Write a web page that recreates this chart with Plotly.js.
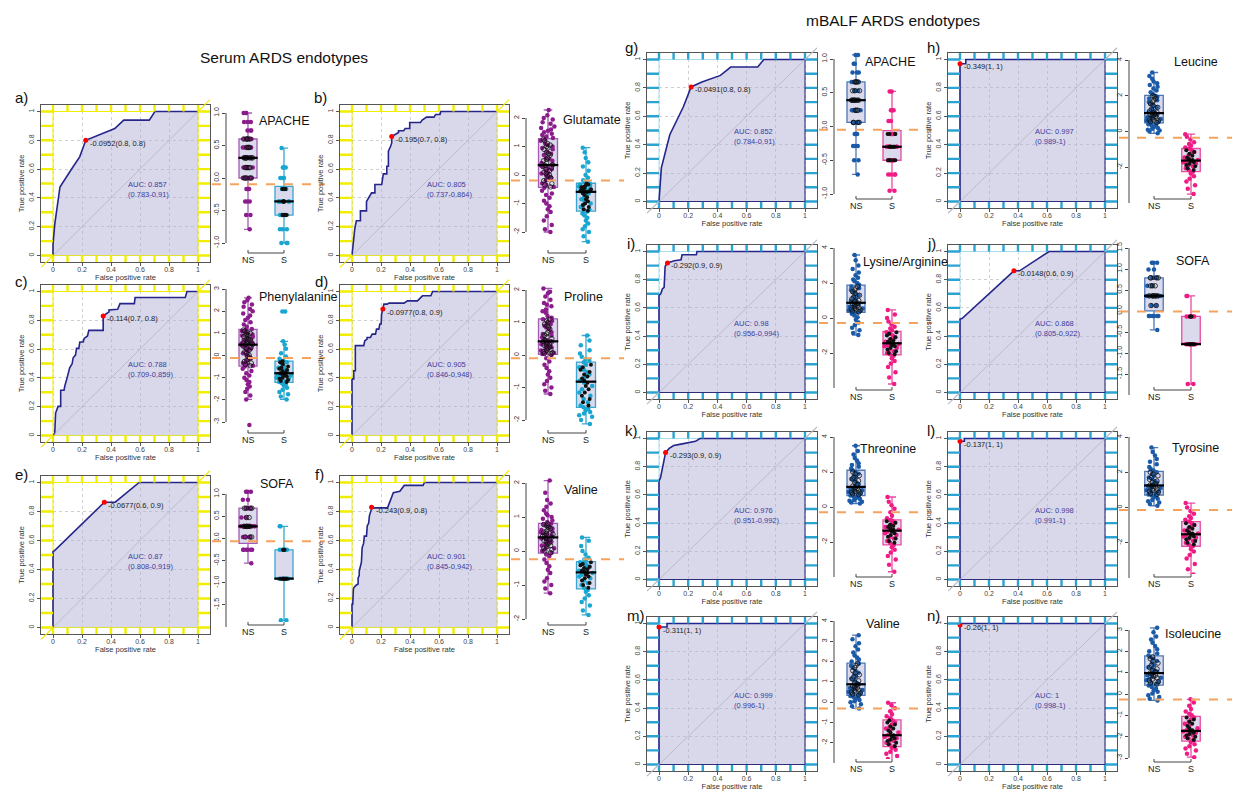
<!DOCTYPE html>
<html><head><meta charset="utf-8">
<script src="https://cdn.plot.ly/plotly-3.0.1.min.js"></script>
<style>html,body{margin:0;padding:0;background:#fff}#chart{width:1243px;height:792px}</style>
</head><body><div id="chart"></div>
<script>
// ================= DATA =================
const panelKeys   = ['a','b','c','d','e','f','g','h','i','j','k','l','m','n'];
const markerNames = ['APACHE','Glutamate','Phenylalanine','Proline','SOFA','Valine',
                     'APACHE','Leucine','Lysine/Arginine','SOFA','Threonine','Tyrosine','Valine','Isoleucine'];
const cutoffs     = [-0.0952,-0.195,-0.114,-0.0977,-0.0677,-0.243,-0.0491,-0.349,-0.292,-0.0148,-0.293,-0.137,-0.311,-0.26];
const cutoffText  = ['-0.0952(0.8, 0.8)','-0.195(0.7, 0.8)','-0.114(0.7, 0.8)','-0.0977(0.8, 0.9)','-0.0677(0.6, 0.9)','-0.243(0.9, 0.8)',
                     '-0.0491(0.8, 0.8)','-0.349(1, 1)','-0.292(0.9, 0.9)','-0.0148(0.6, 0.9)','-0.293(0.9, 0.9)','-0.137(1, 1)','-0.311(1, 1)','-0.26(1, 1)'];
const bestFpr     = [0.226,0.274,0.346,0.213,0.354,0.135,0.220,0,0.058,0.372,0.045,0,0,0];
const bestTpr     = [0.800,0.826,0.830,0.878,0.864,0.830,0.807,0.97,0.919,0.863,0.900,0.98,0.975,0.99];
const aucValues   = ['0.857','0.805','0.788','0.905','0.87','0.901','0.852','0.997','0.98','0.868','0.976','0.998','0.999','1'];
const aucCI       = ['(0.783-0.91)','(0.737-0.864)','(0.709-0.859)','(0.846-0.948)','(0.808-0.919)','(0.845-0.942)',
                     '(0.784-0.91)','(0.989-1)','(0.956-0.994)','(0.805-0.922)','(0.951-0.992)','(0.991-1)','(0.996-1)','(0.998-1)'];
const rocTickVals = [0,0.2,0.4,0.6,0.8,1];
const rocTickText = ['0','0.2','0.4','0.6','0.8','1'];

const roc_a_fpr=[0,0,0.012,0.048,0.127,0.184,0.226,0.323,0.426,0.488,0.664,0.703,1];
const roc_a_tpr=[0,0.077,0.216,0.476,0.599,0.685,0.8,0.842,0.882,0.940,0.940,1,1];
const roc_b_fpr=[0,0.007,0.019,0.030,0.058,0.058,0.100,0.100,0.135,0.158,0.158,0.205,0.216,0.240,0.240,0.251,0.251,0.267,0.274,0.274,0.298,0.321,0.321,0.356,0.367,0.398,0.398,0.472,0.484,0.514,0.565,0.577,0.607,0.612,1];
const roc_b_tpr=[0,0.079,0.185,0.241,0.241,0.310,0.310,0.375,0.435,0.435,0.493,0.493,0.567,0.567,0.620,0.620,0.725,0.760,0.782,0.826,0.843,0.854,0.866,0.866,0.882,0.882,0.924,0.924,0.940,0.961,0.961,0.979,0.979,1,1];
const roc_c_fpr=[0,0.012,0.018,0.035,0.053,0.053,0.076,0.081,0.099,0.115,0.132,0.139,0.155,0.162,0.178,0.185,0.208,0.215,0.238,0.247,0.266,0.346,0.346,0.386,0.386,0.446,0.462,0.561,0.566,0.912,0.924,1];
const roc_c_tpr=[0,0.016,0.156,0.202,0.202,0.314,0.314,0.342,0.407,0.470,0.498,0.540,0.558,0.605,0.605,0.649,0.649,0.674,0.691,0.730,0.730,0.730,0.830,0.858,0.872,0.877,0.916,0.916,0.958,0.958,1,1];
const roc_d_fpr=[0,0,0.012,0.012,0.023,0.023,0.081,0.088,0.104,0.104,0.127,0.139,0.162,0.169,0.185,0.192,0.201,0.204,0.213,0.220,0.243,0.255,0.359,0.382,0.451,0.463,0.486,0.544,0.556,1];
const roc_d_tpr=[0,0.393,0.393,0.450,0.450,0.624,0.624,0.658,0.670,0.681,0.681,0.704,0.704,0.739,0.739,0.774,0.774,0.843,0.878,0.912,0.912,0.919,0.919,0.935,0.935,0.947,0.970,0.970,1,1];
const roc_e_fpr=[0,0,0.011,0.354,0.429,0.594,1];
const roc_e_tpr=[0,0.523,0.53,0.864,0.864,1,1];
const roc_f_fpr=[0,0,0.005,0.01,0.026,0.042,0.042,0.05,0.05,0.065,0.07,0.08,0.085,0.1,0.105,0.115,0.12,0.135,0.14,0.245,0.255,0.265,0.27,0.285,0.33,0.36,0.49,0.5,1];
const roc_f_tpr=[0,0.16,0.16,0.27,0.29,0.30,0.34,0.36,0.39,0.45,0.55,0.58,0.63,0.63,0.70,0.72,0.77,0.82,0.825,0.825,0.855,0.87,0.9,0.93,0.94,0.98,0.98,1.0,1];
const roc_g_fpr=[0,0.016,0.074,0.167,0.220,0.294,0.421,0.491,0.676,0.718,1];
const roc_g_tpr=[0,0.237,0.470,0.667,0.807,0.842,0.888,0.947,0.947,1,1];
const roc_h_fpr=[0,0,0.04,0.04,1];
const roc_h_tpr=[0,0.97,0.97,1,1];
const roc_i_fpr=[0,0,0.012,0.023,0.035,0.042,0.058,0.105,0.151,0.158,0.256,0.26,1];
const roc_i_tpr=[0,0.688,0.700,0.734,0.746,0.896,0.919,0.935,0.942,0.977,0.977,1,1];
const roc_j_fpr=[0,0,0.014,0.372,0.411,0.614,1];
const roc_j_tpr=[0,0.521,0.525,0.863,0.863,1,1];
const roc_k_fpr=[0,0,0.01,0.02,0.03,0.045,0.07,0.1,0.15,0.2,0.25,0.28,1];
const roc_k_tpr=[0,0.70,0.72,0.78,0.82,0.90,0.93,0.95,0.96,0.97,0.98,1,1];
const roc_l_fpr=[0,0,0.03,0.03,1];
const roc_l_tpr=[0,0.98,0.98,1,1];
const roc_m_fpr=[0,0,0.055,0.055,1];
const roc_m_tpr=[0,0.975,0.975,1,1];
const roc_n_fpr=[0,0,1];
const roc_n_tpr=[0,1,1];

const box_a_ns=[1.0,1.0,1.0,0.86,0.86,0.86,0.73,0.73,0.73,0.6,0.6,0.6,0.6,0.6,0.47,0.47,0.47,0.47,0.31,0.31,0.31,0.31,0.31,0.31,0.31,0.31,0.16,0.16,0.16,0.16,0.16,0.0,0.0,0.0,0.0,0.0,-0.17,-0.17,-0.17,-0.36,-0.36,-0.36,-0.57,-0.57,-0.79];
const box_a_s =[0.46,0.16,0.16,0.16,0.0,0.0,0.0,-0.17,-0.17,-0.17,-0.17,-0.36,-0.36,-0.36,-0.36,-0.36,-0.36,-0.57,-0.57,-0.57,-0.57,-0.57,-0.57,-0.79,-0.79,-0.79,-1.0,-1.0,-1.0];
const box_b_ns=[2.28,2.1,2.0,1.95,1.85,1.8,1.7,1.65,1.6,1.55,1.5,1.45,1.4,1.35,1.3,1.25,1.2,1.1,1.05,1.0,0.95,0.9,0.8,0.75,0.7,0.6,0.55,0.5,0.42,0.36,0.34,0.3,0.25,0.2,0.15,0.1,0.05,0.0,-0.05,-0.1,-0.15,-0.2,-0.3,-0.35,-0.42,-0.45,-0.55,-0.65,-0.7,-0.8,-0.9,-1.0,-1.1,-1.2,-1.3,-1.45,-1.6,-1.75,-1.9,-2.0];
const box_b_s =[0.96,0.8,0.6,0.45,0.3,0.15,0.0,-0.1,-0.18,-0.24,-0.28,-0.3,-0.33,-0.36,-0.4,-0.43,-0.46,-0.5,-0.52,-0.55,-0.57,-0.58,-0.6,-0.65,-0.7,-0.78,-0.85,-0.92,-1.0,-1.05,-1.12,-1.2,-1.25,-1.28,-1.35,-1.42,-1.5,-1.6,-1.7,-1.8,-1.9,-2.0,-2.15,-2.34];
const box_c_ns=[2.6,2.5,2.4,2.3,2.2,2.1,2.0,1.9,1.8,1.7,1.6,1.5,1.4,1.3,1.2,1.15,1.1,1.05,1.0,0.95,0.9,0.85,0.8,0.75,0.7,0.65,0.6,0.57,0.54,0.5,0.48,0.42,0.36,0.3,0.24,0.18,0.1,0.02,-0.05,-0.12,-0.2,-0.27,-0.34,-0.4,-0.46,-0.5,-0.6,-0.7,-0.8,-0.9,-1.0,-1.1,-1.2,-1.3,-1.4,-1.5,-1.65,-1.8,-1.98,-3.14];
const box_c_s =[1.98,1.98,0.64,0.5,0.3,0.1,-0.05,-0.15,-0.22,-0.26,-0.3,-0.4,-0.5,-0.55,-0.6,-0.65,-0.7,-0.75,-0.8,-0.83,-0.86,-0.9,-0.95,-1.0,-1.05,-1.1,-1.15,-1.2,-1.25,-1.3,-1.35,-1.45,-1.55,-1.65,-1.75,-1.85,-1.98];
const box_d_ns=[2.05,1.95,1.9,1.8,1.7,1.6,1.55,1.5,1.4,1.35,1.3,1.2,1.15,1.1,1.05,1.0,0.95,0.9,0.85,0.8,0.7,0.65,0.6,0.55,0.5,0.45,0.42,0.39,0.36,0.33,0.3,0.27,0.24,0.2,0.17,0.14,0.1,0.07,0.05,0.03,0.0,-0.1,-0.2,-0.3,-0.4,-0.5,-0.6,-0.7,-0.8,-0.9,-1.0,-1.1,-1.2];
const box_d_s =[0.6,0.45,0.3,0.15,0.05,-0.05,-0.12,-0.18,-0.22,-0.3,-0.38,-0.45,-0.52,-0.6,-0.66,-0.72,-0.79,-0.85,-0.95,-1.05,-1.15,-1.25,-1.35,-1.45,-1.55,-1.61,-1.65,-1.7,-1.75,-1.8,-1.85,-1.9,-2.0,-2.12];
const box_e_ns=[1.05,1.05,1.05,0.87,0.87,0.68,0.68,0.68,0.68,0.47,0.47,0.27,0.27,0.27,0.27,0.27,0.27,0.27,0.03,0.03,0.03,-0.26,-0.26,-0.26,-0.26,-0.26,-0.26,-0.56];
const box_e_s =[0.27,0.27,-0.26,-0.26,-0.26,-0.26,-0.91,-0.91,-0.91,-0.91,-0.91,-0.91,-0.91,-1.85,-1.85];
const box_f_ns=[2.07,1.71,1.5,1.4,1.3,1.2,1.1,1.05,1.0,0.95,0.9,0.85,0.8,0.78,0.75,0.7,0.66,0.62,0.58,0.55,0.52,0.49,0.46,0.43,0.4,0.37,0.34,0.3,0.27,0.24,0.2,0.16,0.12,0.08,0.04,0.0,-0.05,-0.1,-0.15,-0.25,-0.35,-0.45,-0.55,-0.65,-0.8,-0.9,-1.0,-1.1,-1.24];
const box_f_s =[0.4,0.3,0.15,0.0,-0.1,-0.2,-0.25,-0.29,-0.33,-0.38,-0.42,-0.46,-0.5,-0.54,-0.58,-0.61,-0.65,-0.7,-0.75,-0.8,-0.87,-0.94,-1.0,-1.08,-1.15,-1.2,-1.3,-1.4,-1.5,-1.6,-1.75,-1.88];
const box_g_ns=[1.06,1.06,0.93,0.93,0.8,0.8,0.8,0.66,0.66,0.66,0.66,0.53,0.53,0.53,0.39,0.39,0.39,0.39,0.39,0.39,0.39,0.24,0.24,0.24,0.24,0.06,0.06,0.06,0.06,-0.11,-0.11,-0.11,-0.29,-0.29,-0.29,-0.5,-0.5,-0.71];
const box_g_s =[0.52,0.52,0.24,0.24,0.24,0.08,0.08,-0.11,-0.11,-0.11,-0.11,-0.3,-0.3,-0.3,-0.3,-0.3,-0.3,-0.3,-0.5,-0.5,-0.5,-0.5,-0.5,-0.71,-0.71,-0.71,-0.71,-0.95,-0.95];
const box_h_ns=[3.3,3.1,2.95,2.8,2.7,2.6,2.5,2.4,2.3,2.2,2.1,2.0,1.95,1.85,1.75,1.65,1.55,1.45,1.35,1.25,1.15,1.08,1.03,1.0,0.95,0.9,0.85,0.8,0.75,0.7,0.65,0.6,0.55,0.5,0.45,0.4,0.35,0.3,0.25,0.2,0.15,0.1,0.05,0.0,-0.1];
const box_h_s =[-0.15,-0.3,-0.45,-0.6,-0.7,-0.8,-0.9,-0.95,-1.05,-1.15,-1.25,-1.35,-1.45,-1.55,-1.6,-1.65,-1.72,-1.8,-1.88,-1.95,-2.05,-2.15,-2.25,-2.35,-2.5,-2.65,-2.8,-3.0,-3.2,-3.5];
const box_i_ns=[3.6,3.3,3.0,2.8,2.6,2.45,2.3,2.2,2.1,2.0,1.9,1.8,1.7,1.6,1.5,1.4,1.3,1.2,1.1,1.0,0.93,0.87,0.82,0.75,0.7,0.65,0.6,0.55,0.5,0.45,0.4,0.35,0.32,0.25,0.15,0.05,-0.1,-0.25,-0.4,-0.55,-0.7,-0.85,-0.97];
const box_i_s =[0.46,0.2,0.0,-0.2,-0.35,-0.5,-0.6,-0.7,-0.82,-0.9,-1.0,-1.1,-1.2,-1.28,-1.35,-1.41,-1.48,-1.55,-1.62,-1.7,-1.8,-1.9,-2.0,-2.07,-2.15,-2.3,-2.45,-2.6,-2.8,-3.1,-3.4,-3.77];
const box_j_ns=[1.15,1.15,1.15,0.99,0.99,0.79,0.79,0.79,0.79,0.6,0.6,0.6,0.36,0.36,0.36,0.36,0.36,0.36,0.36,0.13,0.13,-0.12,-0.12,-0.12,-0.12,-0.12,-0.12,-0.45];
const box_j_s =[0.36,0.36,-0.13,-0.13,-0.13,-0.13,-0.79,-0.79,-0.79,-0.79,-0.79,-0.79,-0.79,-1.74,-1.74];
const box_k_ns=[3.5,3.2,3.0,2.8,2.65,2.5,2.4,2.3,2.2,2.1,2.0,1.9,1.8,1.7,1.6,1.5,1.4,1.3,1.2,1.1,1.05,1.0,0.95,0.9,0.85,0.8,0.75,0.7,0.65,0.6,0.55,0.5,0.45,0.4,0.35,0.3,0.25,0.2];
const box_k_s =[0.57,0.3,0.1,-0.1,-0.3,-0.5,-0.65,-0.74,-0.82,-0.9,-1.0,-1.08,-1.15,-1.22,-1.3,-1.4,-1.5,-1.6,-1.7,-1.8,-1.95,-2.05,-2.17,-2.3,-2.45,-2.6,-2.8,-3.0,-3.3,-3.7];
const box_l_ns=[3.4,3.15,2.95,2.75,2.6,2.45,2.3,2.2,2.1,2.0,1.9,1.8,1.7,1.6,1.5,1.42,1.35,1.28,1.22,1.16,1.1,1.04,0.98,0.92,0.86,0.8,0.74,0.68,0.63,0.6,0.5,0.42,0.35,0.28,0.2,0.1];
const box_l_s =[0.25,0.0,-0.2,-0.35,-0.5,-0.6,-0.7,-0.8,-0.9,-1.0,-1.1,-1.2,-1.3,-1.4,-1.48,-1.56,-1.64,-1.72,-1.8,-1.9,-2.0,-2.1,-2.2,-2.35,-2.5,-2.7,-2.9,-3.2,-3.5,-3.8];
const box_m_ns=[3.3,3.1,2.9,2.75,2.6,2.45,2.3,2.2,2.1,2.0,1.9,1.8,1.7,1.55,1.45,1.35,1.25,1.15,1.05,0.95,0.88,0.8,0.75,0.7,0.65,0.6,0.55,0.5,0.45,0.4,0.35,0.3,0.25,0.2,0.15,0.1,0.05,0.0,-0.1,-0.2,-0.31];
const box_m_s =[-0.03,-0.15,-0.3,-0.45,-0.6,-0.7,-0.8,-0.9,-1.0,-1.1,-1.2,-1.3,-1.4,-1.5,-1.63,-1.7,-1.78,-1.85,-1.92,-2.0,-2.08,-2.17,-2.25,-2.35,-2.45,-2.55,-2.65,-2.8,-2.94];
const box_n_ns=[3.1,2.9,2.7,2.55,2.4,2.25,2.1,2.0,1.9,1.8,1.74,1.65,1.55,1.45,1.35,1.25,1.18,1.1,1.04,0.98,0.94,0.88,0.82,0.76,0.7,0.64,0.58,0.52,0.46,0.4,0.33,0.25,0.18,0.1,0.02,-0.06,-0.14,-0.22,-0.3];
const box_n_s =[-0.25,-0.4,-0.55,-0.7,-0.82,-0.92,-1.0,-1.1,-1.2,-1.3,-1.4,-1.5,-1.6,-1.7,-1.76,-1.82,-1.88,-1.94,-2.0,-2.08,-2.16,-2.25,-2.35,-2.45,-2.55,-2.65,-2.8,-2.96];

const boxTickRange = [[1,-1,0.5],[2,-2,1],[3,-3,1],[2,-2,1],[1,-2,0.5],[2,-2,1],
                      [1,-1,0.5],[4,-4,2],[4,-4,2],[1.5,-2,0.5],[4,-4,2],[4,-4,2],[4,-3,1],[3,-3,1]];

const rocFpr=[roc_a_fpr,roc_b_fpr,roc_c_fpr,roc_d_fpr,roc_e_fpr,roc_f_fpr,roc_g_fpr,roc_h_fpr,roc_i_fpr,roc_j_fpr,roc_k_fpr,roc_l_fpr,roc_m_fpr,roc_n_fpr];
const rocTpr=[roc_a_tpr,roc_b_tpr,roc_c_tpr,roc_d_tpr,roc_e_tpr,roc_f_tpr,roc_g_tpr,roc_h_tpr,roc_i_tpr,roc_j_tpr,roc_k_tpr,roc_l_tpr,roc_m_tpr,roc_n_tpr];
const boxNS=[box_a_ns,box_b_ns,box_c_ns,box_d_ns,box_e_ns,box_f_ns,box_g_ns,box_h_ns,box_i_ns,box_j_ns,box_k_ns,box_l_ns,box_m_ns,box_n_ns];
const boxS =[box_a_s,box_b_s,box_c_s,box_d_s,box_e_s,box_f_s,box_g_s,box_h_s,box_i_s,box_j_s,box_k_s,box_l_s,box_m_s,box_n_s];

// ================= LAYOUT GEOMETRY (pixels) =================
const W=1243,H=792;
const fx=p=>p/W, fy=p=>1-p/H;
const FONT='"Liberation Sans", Arial, Helvetica, sans-serif';
const COLS={
  serumL:{frameL:41,frameR:210,boxAxis:226,ns:248,s:284},
  serumR:{frameL:340,frameR:509,boxAxis:526,ns:548,s:586},
  balfL:{frameL:647,frameR:817,boxAxis:834,ns:856,s:892},
  balfR:{frameL:948,frameR:1117,boxAxis:1129,ns:1154,s:1191}
};
const ROWS_S=[{top:105,bottom:262},{top:285,bottom:442},{top:476,bottom:634}];
const ROWS_B=[{top:53,bottom:208},{top:245,bottom:399},{top:432,bottom:586},{top:617,bottom:771}];
const PLACE=[
  ['serum','serumL',0,[113,243],[13,98],[257,121]],
  ['serum','serumR',0,[118,232],[312,98],[561,120]],
  ['serum','serumL',1,[289,422],[13,281],[257,297]],
  ['serum','serumR',1,[290,420],[313,281],[562,297]],
  ['serum','serumL',2,[494,627],[13,474],[258,484]],
  ['serum','serumR',2,[483,619],[313,475],[562,490]],
  ['balf','balfL',0,[59,194],[623,47],[863,62]],
  ['balf','balfR',0,[60,203],[925,47],[1172,62]],
  ['balf','balfL',1,[248,388],[625,243],[861,262]],
  ['balf','balfR',1,[248,395],[925,243],[1174,261]],
  ['balf','balfL',2,[437,577],[623,430],[858,449]],
  ['balf','balfR',2,[437,578],[925,430],[1170,448]],
  ['balf','balfL',3,[621,763],[625,615],[864,624]],
  ['balf','balfR',3,[630,758],[925,615],[1163,634]]
];
const STYLE={
  serum:{deco:'#f2ee00',thin:'#f2ee00',ns:'#8b1c8c',s:'#19a6d0',nsLine:'#a55bb4',sLine:'#3aa6cf',diag:'#f2ee00',border:false},
  balf:{deco:'#2ba4d2',thin:'#a9dcee',ns:'#1b5aa7',s:'#f01c85',nsLine:'#4d78b8',sLine:'#ea4aa2',diag:'#b8b8c4',border:true}
};

function quart(arr){
  const a=[...arr].sort((x,y)=>x-y), n=a.length;
  const q=p=>{const h=(n-1)*p, lo=Math.floor(h); return a[lo]+(h-lo)*((a[lo+1]??a[lo])-a[lo]);};
  return [q(0.25),q(0.5),q(0.75)];
}
const sfx=k=>k===1?'':String(k);

const data=[], shapes=[], annotations=[];
const layout={width:W,height:H,margin:{l:0,r:0,t:0,b:0},paper_bgcolor:'#fff',plot_bgcolor:'rgba(0,0,0,0)',
  showlegend:false,font:{family:FONT,color:'#222'},boxmode:'overlay'};

panelKeys.forEach((key,i)=>{
  const [set,colKey,rowIdx,tickPx,letterPos,namePos]=PLACE[i];
  const c=COLS[colKey], r=(set==='serum'?ROWS_S:ROWS_B)[rowIdx], st=STYLE[set];
  const rk=2*i+1, bk=2*i+2;
  const xa='x'+sfx(rk), ya='y'+sfx(rk), bxa='x'+sfx(bk), bya='y'+sfx(bk);

  // ---- ROC axes
  const inX=12, inY=6.5;
  const wD=(c.frameR-c.frameL)-2*inX, hD=(r.bottom-r.top)-2*inY;
  const xr=[-inX/wD,1+inX/wD], yr=[-inY/hD,1+inY/hD];
  const common={tickvals:rocTickVals,ticktext:rocTickText,ticks:'outside',ticklen:3,tickwidth:1,tickcolor:'#555',
    showline:true,mirror:true,linecolor:'#555',linewidth:1.3,showgrid:true,gridcolor:'#cfcfcf',griddash:'dot',gridwidth:1,
    zeroline:false,tickfont:{size:7,color:'#444'},fixedrange:true};
  layout['xaxis'+sfx(rk)]=Object.assign({},common,{domain:[fx(c.frameL),fx(c.frameR)],range:xr,anchor:ya,ticklabelstandoff:-3,
    title:{text:'False positive rate',font:{size:7.5,color:'#333'},standoff:0}});
  layout['yaxis'+sfx(rk)]=Object.assign({},common,{domain:[fy(r.bottom),fy(r.top)],range:yr,anchor:xa,tickangle:-90,
    title:{text:'True positive rate',font:{size:7.5,color:'#333'},standoff:2}});

  let d='';
  for(let k=0;k<=10;k++){const v=k/10;
    d+=`M${xr[0]},${v}L0,${v}M1,${v}L${xr[1]},${v}M${v},${yr[1]}L${v},1M${v},0L${v},${yr[0]}`;}
  shapes.push({type:'path',xref:xa,yref:ya,path:d,line:{color:st.deco,width:2.4},layer:'above'});
  const thinLines=set==='serum'?[[0,0,0,1],[1,0,1,1],[0,0,1,0],[0,1,1,1]]:[[0,0,0,1],[0,1,1,1]];
  thinLines.forEach(L=>shapes.push({type:'line',xref:xa,yref:ya,x0:L[0],y0:L[1],x1:L[2],y1:L[3],line:{color:st.thin,width:1},layer:'between'}));
  if(st.border){
    shapes.push({type:'line',xref:xa,yref:ya,x0:1,y0:0,x1:1,y1:1,line:{color:'#2d2d7a',width:1.1},layer:'above'});
    shapes.push({type:'line',xref:xa,yref:ya,x0:0,y0:0,x1:1,y1:0,line:{color:'#2d2d7a',width:1.1},layer:'above'});
  }
  // diagonal (R abline): coloured beyond [0,1], grey inside
  const xPix=v=>c.frameL+inX+v*wD, yPix=v=>r.bottom-inY-v*hD;
  [[xr[0],0],[1,xr[1]]].forEach(([a,b])=>shapes.push({type:'line',xref:'paper',yref:'paper',
    x0:fx(xPix(a)),y0:fy(yPix(a)),x1:fx(xPix(b)),y1:fy(yPix(b)),line:{color:st.diag,width:1.1},layer:'above'}));
  shapes.push({type:'line',xref:xa,yref:ya,x0:0,y0:0,x1:1,y1:1,line:{color:'#b4b4c2',width:0.8},layer:'above'});

  data.push({type:'scatter',mode:'lines',x:rocFpr[i],y:rocTpr[i],xaxis:xa,yaxis:ya,fill:'tozeroy',
    fillcolor:'rgba(178,178,214,0.5)',line:{color:'#25258a',width:1.6,shape:'linear'},hoverinfo:'skip'});
  data.push({type:'scatter',mode:'markers',x:[bestFpr[i]],y:[bestTpr[i]],xaxis:xa,yaxis:ya,
    marker:{color:'#ff0000',size:5},cliponaxis:false,hoverinfo:'skip'});
  annotations.push({xref:xa,yref:ya,x:bestFpr[i],y:bestTpr[i],xanchor:'left',yanchor:'middle',xshift:2,yshift:-3,
    text:cutoffText[i],showarrow:false,font:{size:7.5,color:'#222'}});
  annotations.push({xref:xa,yref:ya,x:0.5,y:0.455,xanchor:'left',yanchor:'middle',align:'left',
    text:'AUC: '+aucValues[i]+'<br>'+aucCI[i],showarrow:false,font:{size:7.5,color:'#3c3c9e'}});

  // ---- Box plot axes
  const [tmax,tmin,step]=boxTickRange[i];
  const ppu=(tickPx[1]-tickPx[0])/(tmax-tmin), zeroPx=tickPx[0]+tmax*ppu;
  const vpx=v=>zeroPx-v*ppu;
  const topPx=r.top-4, botPx=r.bottom-12, rightPx=c.boxAxis+92;
  const tv=[], tt=[];
  for(let v=tmin; v<=tmax+1e-9; v+=step){const vv=Math.round(v*100)/100; tv.push(vv); tt.push(step<1?vv.toFixed(1):String(vv));}
  layout['yaxis'+sfx(bk)]={domain:[fy(botPx),fy(topPx)],range:[(zeroPx-botPx)/ppu,(zeroPx-topPx)/ppu],anchor:bxa,
    tickvals:tv,ticktext:tt,ticks:'outside',ticklen:3,tickcolor:'#444',tickangle:-90,tickfont:{size:7,color:'#333'},
    showgrid:false,zeroline:false,showline:false,fixedrange:true};
  const u=c.s-c.ns;
  layout['xaxis'+sfx(bk)]={domain:[fx(c.boxAxis),fx(rightPx)],range:[(c.boxAxis-c.ns)/u,(rightPx-c.ns)/u],anchor:bya,
    type:'category',categoryorder:'array',categoryarray:['NS','S'],showticklabels:false,ticks:'',showgrid:false,
    zeroline:false,showline:false,fixedrange:true};

  [['NS',boxNS[i],st.ns,st.nsLine,0],['S',boxS[i],st.s,st.sLine,1]].forEach(([nm,vals,col,lc,pos])=>{
    data.push({type:'box',y:vals,name:nm,xaxis:bxa,yaxis:bya,boxpoints:'all',jitter:0.85,pointpos:0,width:0.5,
      whiskerwidth:0.45,fillcolor:'rgba(205,205,230,0.75)',line:{color:lc,width:1.3},marker:{color:col,size:4.5},hoverinfo:'skip'});
    const q=quart(vals);
    const inner=vals.filter(v=>v>=q[0]&&v<=q[2]);
    data.push({type:'box',y:inner,name:nm,xaxis:bxa,yaxis:bya,boxpoints:'all',jitter:0.6,pointpos:0,width:0.5,
      fillcolor:'rgba(0,0,0,0)',line:{color:'rgba(0,0,0,0)',width:0},
      marker:nm==='NS'?{symbol:'circle-open',color:'#111',size:4.5,line:{width:0.8}}:{color:'#111',size:4},hoverinfo:'skip'});
    shapes.push({type:'line',xref:bxa,yref:bya,x0:pos-0.27,x1:pos+0.27,y0:q[1],y1:q[1],line:{color:'#000',width:2.2},layer:'above'});
    annotations.push({xref:bxa,yref:'paper',x:pos,y:fy(r.bottom-2),xanchor:'center',yanchor:'middle',text:nm,showarrow:false,
      font:{size:9,color:'#222'}});
  });
  shapes.push({type:'line',xref:'paper',yref:'paper',x0:fx(c.boxAxis),x1:fx(c.boxAxis),y0:fy(tickPx[0]),y1:fy(tickPx[1]),
    line:{color:'#444',width:1}});
  const by=r.bottom-9;
  shapes.push({type:'path',xref:'paper',yref:'paper',
    path:`M${fx(c.ns)},${fy(by-3)}L${fx(c.ns)},${fy(by)}L${fx(c.s)},${fy(by)}L${fx(c.s)},${fy(by-3)}`,line:{color:'#444',width:1}});
  shapes.push({type:'line',xref:'paper',yref:'paper',x0:fx(c.frameR+2),x1:fx(c.frameR+115),y0:fy(vpx(cutoffs[i])),y1:fy(vpx(cutoffs[i])),
    line:{color:'#f6a35e',width:2,dash:'dash'},layer:'above'});

  annotations.push({xref:'paper',yref:'paper',x:fx(letterPos[0]),y:fy(letterPos[1]),xanchor:'left',yanchor:'middle',
    text:key+')',showarrow:false,font:{size:15,color:'#111'}});
  annotations.push({xref:'paper',yref:'paper',x:fx(namePos[0]),y:fy(namePos[1]),xanchor:'left',yanchor:'middle',
    text:markerNames[i],showarrow:false,font:{size:12.5,color:'#111'}});
});

annotations.push({xref:'paper',yref:'paper',x:fx(284),y:fy(58),xanchor:'center',yanchor:'middle',text:'Serum ARDS endotypes',showarrow:false,font:{size:15.5,color:'#111'}});
annotations.push({xref:'paper',yref:'paper',x:fx(893),y:fy(20),xanchor:'center',yanchor:'middle',text:'mBALF ARDS endotypes',showarrow:false,font:{size:15.5,color:'#111'}});
layout.shapes=shapes; layout.annotations=annotations;

Plotly.newPlot('chart',data,layout,{staticPlot:true,displayModeBar:false});
</script></body></html>
